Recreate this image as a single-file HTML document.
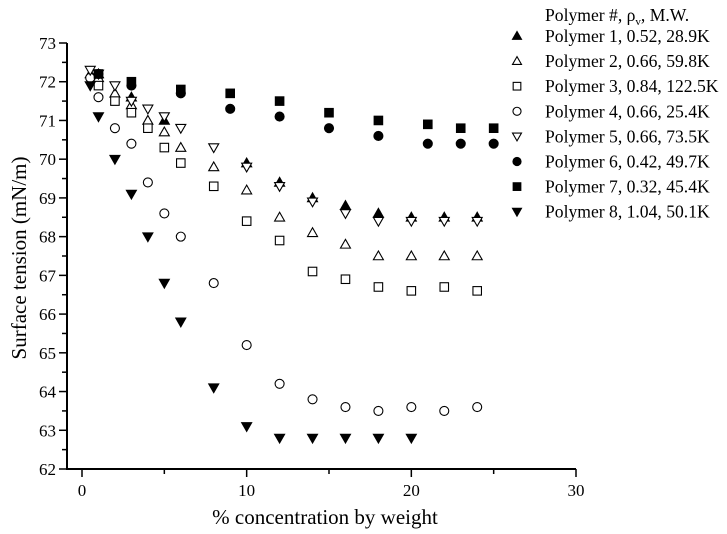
<!DOCTYPE html>
<html><head><meta charset="utf-8"><style>
body{margin:0;background:#fff;}
svg{display:block;font-family:"Liberation Serif",serif;}
</style></head><body>
<svg id="chart" width="727" height="534" viewBox="0 0 727 534" xmlns="http://www.w3.org/2000/svg">
<g id="axes"></g><g id="marks"></g><g id="legend"></g>
</svg>
<script>
const xTicks=[0,10,20,30];
const yTicks=[62,63,64,65,66,67,68,69,70,71,72,73];
const seriesNames=["Polymer 1, 0.52, 28.9K","Polymer 2, 0.66, 59.8K","Polymer 3, 0.84, 122.5K","Polymer 4, 0.66, 25.4K","Polymer 5, 0.66, 73.5K","Polymer 6, 0.42, 49.7K","Polymer 7, 0.32, 45.4K","Polymer 8, 1.04, 50.1K"];
const seriesShapes=["triUp","triUp","square","circle","triDown","circle","square","triDown"];
const seriesFilled=[true,false,false,false,false,true,true,true];
const p1x=[1,3,5,10,12,14,16,18,20,22,24];
const p1y=[72.2,71.6,71.0,69.9,69.4,69.0,68.8,68.6,68.5,68.5,68.5];
const p2x=[0.5,1,2,3,4,5,6,8,10,12,14,16,18,20,22,24];
const p2y=[72.2,72.1,71.7,71.4,71.0,70.7,70.3,69.8,69.2,68.5,68.1,67.8,67.5,67.5,67.5,67.5];
const p3x=[1,2,3,4,5,6,8,10,12,14,16,18,20,22,24];
const p3y=[71.9,71.5,71.2,70.8,70.3,69.9,69.3,68.4,67.9,67.1,66.9,66.7,66.6,66.7,66.6];
const p4x=[0.5,1,2,3,4,5,6,8,10,12,14,16,18,20,22,24];
const p4y=[72.1,71.6,70.8,70.4,69.4,68.6,68.0,66.8,65.2,64.2,63.8,63.6,63.5,63.6,63.5,63.6];
const p5x=[0.5,1,2,3,4,5,6,8,10,12,14,16,18,20,22,24];
const p5y=[72.3,72.2,71.9,71.5,71.3,71.1,70.8,70.3,69.8,69.3,68.9,68.6,68.4,68.4,68.4,68.4];
const p6x=[1,3,6,9,12,15,18,21,23,25];
const p6y=[72.2,71.9,71.7,71.3,71.1,70.8,70.6,70.4,70.4,70.4];
const p7x=[1,3,6,9,12,15,18,21,23,25];
const p7y=[72.2,72.0,71.8,71.7,71.5,71.2,71.0,70.9,70.8,70.8];
const p8x=[0.5,1,2,3,4,5,6,8,10,12,14,16,18,20];
const p8y=[71.9,71.1,70.0,69.1,68.0,66.8,65.8,64.1,63.1,62.8,62.8,62.8,62.8,62.8];
const allX=[p1x,p2x,p3x,p4x,p5x,p6x,p7x,p8x];
const allY=[p1y,p2y,p3y,p4y,p5y,p6y,p7y,p8y];

const NS="http://www.w3.org/2000/svg";
const X0=82,X1=576,Y0=469,Y1=43;
const xs=v=>X0+(v-0)/(30-0)*(X1-X0);
const ys=v=>Y0-(v-62)/(73-62)*(Y0-Y1);
function mk(tag,attrs,parent){const e=document.createElementNS(NS,tag);for(const k in attrs)e.setAttribute(k,attrs[k]);parent.appendChild(e);return e;}
const axes=document.getElementById('axes');
let e=mk('line',{x1:66,y1:Y0,x2:X1,y2:Y0,stroke:'#000','stroke-width':2},axes);


e=mk('line',{x1:67,y1:Y0+1,x2:67,y2:Y1,stroke:'#000','stroke-width':2},axes);


for(let v=0;v<=30;v+=5){
  const major=v%10===0;
  mk('line',{x1:xs(v),y1:Y0,x2:xs(v),y2:Y0+(major?8:5),stroke:'#000','stroke-width':1.5},axes);
}
xTicks.forEach(v=>{const t=mk('text',{x:xs(v),y:Y0+27,'text-anchor':'middle','font-size':17},axes);t.textContent=v;

});
for(let v=62;v<=73;v+=0.5){
  const major=Math.abs(v-Math.round(v))<1e-6;
  mk('line',{x1:67,y1:ys(v),x2:67-(major?8:5),y2:ys(v),stroke:'#000','stroke-width':1.5},axes);
}
yTicks.forEach(v=>{const t=mk('text',{x:56,y:ys(v)+6,'text-anchor':'end','font-size':17},axes);t.textContent=v;

});
let t=mk('text',{x:325,y:524,'text-anchor':'middle','font-size':21},axes);t.textContent='% concentration by weight';


t=mk('text',{x:0,y:0,'text-anchor':'middle','font-size':21,transform:'translate(26,258) rotate(-90)'},axes);t.textContent='Surface tension (mN/m)';



function marker(shape,filled,cx,cy,parent,s){
  s=s||5;
  const st={fill:filled?'#000':'#fff',stroke:'#000','stroke-width':1.1};
  let el;
  if(shape==='circle')el=mk('circle',Object.assign({cx:cx,cy:cy,r:s*0.9},st),parent);
  else if(shape==='square')el=mk('rect',Object.assign({x:cx-s*0.85,y:cy-s*0.85,width:s*1.7,height:s*1.7},st),parent);
  else if(shape==='triUp')el=mk('polygon',Object.assign({points:`${cx},${cy-s} ${cx-s},${cy+s*0.75} ${cx+s},${cy+s*0.75}`},st),parent);
  else el=mk('polygon',Object.assign({points:`${cx},${cy+s} ${cx-s},${cy-s*0.75} ${cx+s},${cy-s*0.75}`},st),parent);
  return el;
}
const marks=document.getElementById('marks');
allX.forEach((xa,i)=>{
  const g=mk('g',{},marks);
  
  
  xa.forEach((xv,j)=>{
    const m=marker(seriesShapes[i],seriesFilled[i],xs(xv),ys(allY[i][j]),g);
    
    
  });
});
const leg=document.getElementById('legend');


t=mk('text',{x:545,y:21,'font-size':17.6},leg);
t.innerHTML='Polymer #, ρ<tspan font-size="11" dy="4">v</tspan><tspan dy="-4">, M.W.</tspan>';


seriesNames.forEach((n,i)=>{
  const cy=36+i*25.1;
  const g=mk('g',{},leg);
  
  
  marker(seriesShapes[i],seriesFilled[i],517,cy,g,4.5);
  const tx=mk('text',{x:545,y:cy+6,'font-size':17.6},g);tx.textContent=n;
});
</script>
</body></html>
